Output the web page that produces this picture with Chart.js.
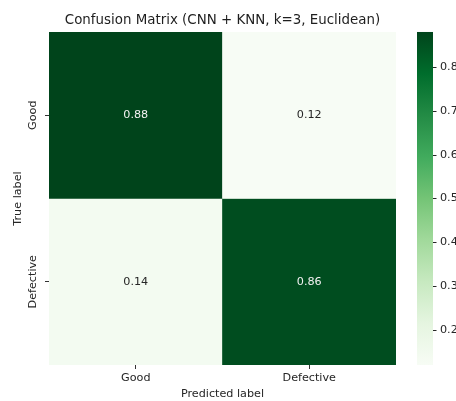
<!DOCTYPE html>
<html>
<head>
<meta charset="utf-8">
<script src="https://cdn.jsdelivr.net/npm/chart.js@4/dist/chart.umd.min.js"></script>
<style>
  html, body { margin: 0; padding: 0; background: #ffffff; }
  #wrap { width: 456px; height: 401px; }
</style>
</head>
<body>
<div id="wrap"><canvas id="c" width="456" height="401"></canvas></div>
<script>
// ---- data ----
const predictedLabels = ['Good', 'Defective'];
const trueLabels = ['Good', 'Defective'];
const rowGood = [0.88, 0.12];
const rowDefective = [0.14, 0.86];
const colorbarTicks = [0.2, 0.3, 0.4, 0.5, 0.6, 0.7, 0.8];
const titleText = 'Confusion Matrix (CNN + KNN, k=3, Euclidean)';

const matrix = [rowGood, rowDefective];
const allVals = matrix.flat();
const vmin = Math.min(...allVals);
const vmax = Math.max(...allVals);

// matplotlib "Greens" colormap
const greens = ['#f7fcf5', '#e5f5e0', '#c7e9c0', '#a1d99b', '#74c476', '#41ab5d', '#238b45', '#006d2c', '#00441b'];
function hexToRgb(h) { return [parseInt(h.substr(1, 2), 16), parseInt(h.substr(3, 2), 16), parseInt(h.substr(5, 2), 16)]; }
const greensRgb = greens.map(hexToRgb);
function cmap(t) {
  t = Math.max(0, Math.min(1, t));
  const n = greensRgb.length - 1;
  const p = t * n;
  const i = Math.min(n - 1, Math.floor(p));
  const f = p - i;
  const a = greensRgb[i], b = greensRgb[i + 1];
  return a.map((v, k) => Math.round(v + (b[k] - v) * f));
}
function colorFor(v) { const c = cmap((v - vmin) / (vmax - vmin)); return `rgb(${c[0]},${c[1]},${c[2]})`; }
function isDark(v) { const c = cmap((v - vmin) / (vmax - vmin)); const l = (0.299 * c[0] + 0.587 * c[1] + 0.114 * c[2]) / 255; return l < 0.5; }

const textColor = '#262626';
const fs = 11.2;
Chart.defaults.font.family = "'DejaVu Sans', sans-serif";
Chart.defaults.color = textColor;

const datasets = matrix.map((row, r) => ({
  label: trueLabels[r],
  data: predictedLabels.map(() => [r, r + 1]),
  backgroundColor: row.map(colorFor),
  borderWidth: 0,
  borderSkipped: false,
  grouped: false,
  barPercentage: 1,
  categoryPercentage: 1,
  xAxisID: 'x',
  yAxisID: 'y'
}));

const heatPlugin = {
  id: 'heatPlugin',
  afterDatasetsDraw(chart) {
    const ctx = chart.ctx;
    const xs = chart.scales.x, ys = chart.scales.y;
    ctx.save();
    ctx.font = fs + "px 'DejaVu Sans'";
    ctx.textAlign = 'center';
    ctx.textBaseline = 'middle';
    matrix.forEach((row, r) => {
      row.forEach((v, c) => {
        ctx.fillStyle = isDark(v) ? '#f2f2f2' : textColor;
        ctx.fillText(v.toFixed(2), xs.getPixelForValue(c), ys.getPixelForValue(r + 0.5));
      });
    });
    ctx.restore();
  },
  afterDraw(chart) {
    const ctx = chart.ctx;
    const cb = chart.scales.cb;
    const x0 = chart.chartArea.right + 21;
    const w = 16;
    const yTop = cb.getPixelForValue(vmax);
    const yBot = cb.getPixelForValue(vmin);
    const g = ctx.createLinearGradient(0, yBot, 0, yTop);
    greens.forEach((col, i) => g.addColorStop(i / (greens.length - 1), col));
    ctx.save();
    ctx.fillStyle = g;
    ctx.fillRect(x0, yTop, w, yBot - yTop);
    ctx.strokeStyle = textColor;
    ctx.lineWidth = 1;
    cb.ticks.forEach(t => {
      const y = Math.round(cb.getPixelForValue(t.value)) + 0.5;
      ctx.beginPath();
      ctx.moveTo(x0 + w, y);
      ctx.lineTo(x0 + w + 3.5, y);
      ctx.stroke();
    });
    ctx.restore();
  }
};

function noPad(s) { s.paddingTop = 0; s.paddingBottom = 0; s.paddingLeft = 0; s.paddingRight = 0; }

new Chart(document.getElementById('c'), {
  type: 'bar',
  data: { labels: predictedLabels, datasets },
  plugins: [heatPlugin],
  options: {
    responsive: false,
    animation: false,
    devicePixelRatio: 1,
    layout: { padding: 0 },
    plugins: {
      legend: { display: false },
      tooltip: { enabled: false },
      title: {
        display: true,
        text: titleText,
        fullSize: false,
        color: '#1e1e1e',
        font: { size: 13.4, weight: 'normal' },
        padding: { top: 12.5, bottom: 3.4 }
      }
    },
    scales: {
      x: {
        type: 'category',
        offset: true,
        border: { display: false },
        grid: { display: true, offset: false, drawOnChartArea: false, drawTicks: true, tickLength: 4, color: '#333333' },
        ticks: { font: { size: fs }, color: textColor, padding: 2, maxRotation: 0 },
        title: { display: true, text: 'Predicted label', font: { size: fs }, color: textColor, padding: { top: 0, bottom: 0 } },
        afterFit(s) { s.height = 36; noPad(s); }
      },
      y: {
        type: 'linear',
        position: 'left',
        min: 0,
        max: 2,
        reverse: true,
        border: { display: false },
        grid: { display: true, drawOnChartArea: false, drawTicks: true, tickLength: 4, color: '#333333' },
        afterBuildTicks(s) { s.ticks = trueLabels.map((_, i) => ({ value: i + 0.5 })); },
        ticks: {
          font: { size: fs }, color: textColor, padding: -14.8,
          minRotation: 90, maxRotation: 90, crossAlign: 'center',
          callback: (v) => trueLabels[Math.floor(v)]
        },
        title: { display: true, text: 'True label', font: { size: fs }, color: textColor, padding: { top: 11.3, bottom: 0 } },
        afterFit(s) { s.width = 49; noPad(s); }
      },
      cb: {
        type: 'linear',
        position: 'right',
        min: vmin,
        max: vmax,
        border: { display: false },
        grid: { display: false, drawTicks: false, drawOnChartArea: false },
        afterBuildTicks(s) { s.ticks = colorbarTicks.map(v => ({ value: v })); },
        ticks: { font: { size: fs }, color: textColor, padding: 44, callback: (v) => v.toFixed(1) },
        afterFit(s) { s.width = 60; noPad(s); }
      }
    }
  }
});
</script>
</body>
</html>
